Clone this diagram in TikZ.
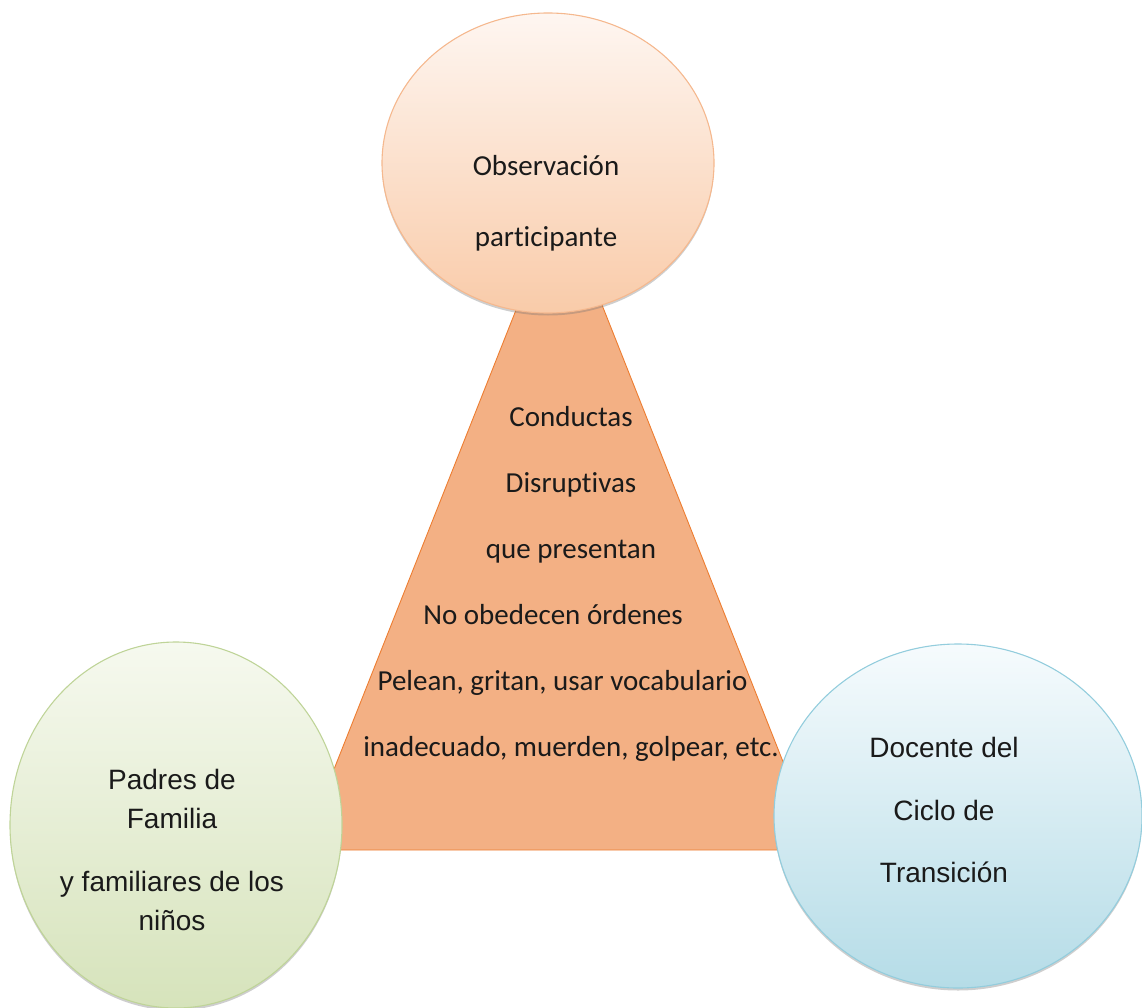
\documentclass[tikz,border=0pt]{standalone}
\usepackage{fontspec}
\setmainfont{Carlito}[Ligatures={NoCommon}]
\newfontfamily\arialf{Liberation Sans}
\usetikzlibrary{shapes.geometric,shadows}
\definecolor{peachTop}{HTML}{FEF6F1}
\definecolor{peachBot}{HTML}{F9CBA9}
\definecolor{peachLine}{HTML}{F5B88E}
\definecolor{triFill}{HTML}{F3B084}
\definecolor{triLine}{HTML}{ED7D31}
\definecolor{greenTop}{HTML}{F6F9EF}
\definecolor{greenBot}{HTML}{D6E3BB}
\definecolor{greenLine}{HTML}{BFD498}
\definecolor{blueTop}{HTML}{F6FBFD}
\definecolor{blueBot}{HTML}{B5DCE7}
\definecolor{blueLine}{HTML}{93CDDD}
\definecolor{inkText}{HTML}{1A1A1A}
\begin{document}
\begin{tikzpicture}[x=1pt,y=-1pt,
  bubble/.style={ellipse, inner sep=0pt, line width=1.1pt,
    drop shadow={shadow xshift=0pt, shadow yshift=-2.5pt, opacity=0.35, fill=black!55}},
  calibritext/.style={inner sep=0pt, align=center, text=inkText,
    font=\fontsize{29}{66}\selectfont},
  arialtext/.style={inner sep=0pt, align=center, text=inkText,
    font=\arialf\fontsize{28}{39}\selectfont}
  ]
\useasboundingbox (0,0) rectangle (1142,1008);

% triangle
\coordinate (apex) at (560,199);
\coordinate (bl) at (302,850);
\coordinate (br) at (818,850);
\draw[fill=triFill, draw=triLine, line width=0.9pt, line join=miter] (apex) -- (bl) -- (br) -- cycle;
\node[calibritext] (conductas) at (571,584)
  {Conductas\\Disruptivas\\que presentan\\\hbox{No obedecen órdenes\hspace*{36pt}}\\\hbox{Pelean, gritan, usar vocabulario\hspace*{17pt}}\\inadecuado, muerden, golpear, etc.};

% top circle
\node[bubble, draw=peachLine, top color=peachTop, bottom color=peachBot,
  minimum width=332pt, minimum height=300pt] (obs) at (548,163) {};
\node[calibritext, font=\fontsize{29}{71}\selectfont] (obstext) at (546,203)
  {Observación\\participante};

% left circle
\node[bubble, draw=greenLine, top color=greenTop, bottom color=greenBot,
  minimum width=332pt, minimum height=366pt] (padres) at (176,825) {};
\node[arialtext] (padrestext) at (172,850)
  {Padres de\\Familia\\[24pt]y familiares de los\\niños};

% right circle
\node[bubble, draw=blueLine, top color=blueTop, bottom color=blueBot,
  minimum width=368pt, minimum height=344pt] (docente) at (958,816) {};
\node[arialtext, font=\arialf\fontsize{28}{62.5}\selectfont] (docentetext) at (944,810)
  {Docente del\\Ciclo de\\Transición};
\end{tikzpicture}
\end{document}
